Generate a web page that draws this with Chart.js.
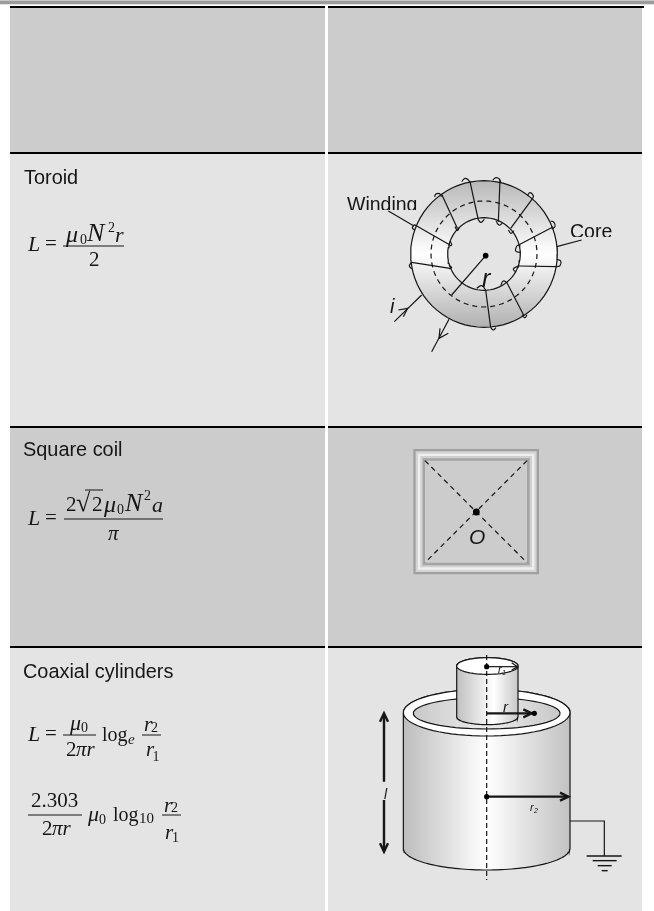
<!DOCTYPE html>
<html>
<head>
<meta charset="utf-8">
<title>Inductance table</title>
<script src="https://cdn.jsdelivr.net/npm/chart.js@4"></script>
<style>
  html, body { margin: 0; padding: 0; background: #fff; }
  #wrap { position: relative; width: 654px; height: 911px; overflow: hidden; }
  #wrap span { position: absolute; white-space: pre; color: #161616; }
</style>
</head>
<body>
<div id="wrap"><canvas id="tableChart" width="654" height="911"></canvas></div>
<script>
// page units on both axes, y runs downwards
const pageWidth = 654;
const pageHeight = 911;

const rowTops = [8, 154, 428, 648];
const rowBottoms = [152, 426, 646, 911];
const rowFills = ['#cccccc', '#e4e4e4', '#cccccc', '#e4e4e4'];
const columnLefts = [10, 328];
const columnRights = [325, 642];

// toroid
const toroidCentre = [484, 254];
const toroidRadii = [73.3, 53, 36.3];
const toroidWindings = [
  [[305,88],[352,190]], [[390,50],[415,165]], [[480,45],[475,170]], [[578,100],[512,190]],
  [[640,185],[530,243]], [[650,305],[535,303]], [[552,452],[500,352]], [[452,488],[437,375]],
  [[215,292],[330,310]], [[225,180],[330,240]]
];
const toroidLoops = [
  [[305,95],[298,86],[287,88],[284,96]], [[365,50],[375,40],[385,45],[390,52]],
  [[458,45],[468,38],[478,42],[482,52]], [[562,92],[570,83],[580,92],[578,100]],
  [[632,168],[642,172],[645,185],[635,192]], [[650,283],[662,288],[660,302],[650,305]],
  [[546,450],[554,458],[561,450]], [[452,488],[460,495],[468,488]],
  [[215,292],[208,302],[215,312]], [[225,178],[217,188],[225,196]],
  [[345,185],[352,196],[358,188]], [[415,165],[423,172],[433,163]],
  [[468,168],[477,180],[487,175]], [[505,195],[513,205],[522,197]],
  [[530,243],[527,258],[542,262]], [[535,303],[520,312],[528,322]],
  [[482,362],[490,348],[500,352]], [[410,370],[425,362],[437,375]],
  [[327,300],[335,308],[328,312]], [[330,228],[335,240],[328,243]]
];
const toroidLeaders = [
  [[145,138],[222,183]], [[650,245],[725,225]], [[437,272],[335,390]],
  [[163,470],[245,390]], [[175,435],[203,430],[190,455]],
  [[327,463],[275,560]], [[300,490],[297,520],[325,505]]
];

// square coil, outermost band first
const squareBands = [
  [[40,27],[417,403],'#a0a0a0'], [[47,34],[410,396],'#d4d4d4'], [[54,41],[403,389],'#efefef'],
  [[61,48],[396,382],'#d0d0d0'], [[68,55],[389,376],'#a4a4a4'], [[75,62],[381,368],'#cccccc']
];
const squareDiagonals = [[[75,62],[381,368]], [[381,62],[75,368]]];
const squareDot = [229, 216];

// coaxial cylinders
const outerShell = { cx: 350, rx: 250, top: 188, ryTop: 70, bottom: 595, ryBottom: 65 };
const outerBore = { cx: 350, cy: 190, rx: 220, ry: 47 };
const innerRod = { cx: 352, rx: 92, top: 48, ryTop: 25, bottom: 200, ryBottom: 24 };
const cylinderStops = [[0, '#bdbdbd'], [0.5, '#ffffff'], [1, '#c2c2c2']];
const rodStops = [[0, '#c0c0c0'], [0.6, '#ffffff'], [1, '#c8c8c8']];
const cylinderAxis = [[350,15],[350,690]];
const thinArrows = [[[350,50],[440,50]], [[425,38],[442,50],[425,60]]];
const thickArrows = [
  [[350,190],[485,190]], [[460,178],[485,190],[460,202]],
  [[350,440],[595,440]], [[570,428],[595,440],[570,452]],
  [[42,195],[42,395]], [[30,215],[42,190],[54,215]],
  [[42,450],[42,600]], [[30,580],[42,605],[54,580]]
];
const groundWire = [[600,513],[703,513],[703,618]];
const groundBars = [[[650,618],[755,618]], [[668,632],[740,632]], [[683,647],[725,647]], [[695,662],[713,662]]];
const cylinderDots = [[350,50],[493,190],[350,440]];

// formula rules: x0, x1, y
const fractionRules = [
  [63,124,246], [64,163,519], [63,96,735], [142,161,735], [28,82,815], [162,181,815], [85,103,490]
];

// text: string, x, baseline, size, family, extra style
const SANS = '"Liberation Sans"';
const SERIF = '"Liberation Serif"';
const sansLabels = [
  ['Toroid', 24, 184.5, 19.9], ['Square coil', 23, 457, 19.9], ['Coaxial cylinders', 23, 679, 19.9]
];
const diagramLabels = [
  ['i', 390, 313, 20, 'italic'], ['r', 482, 287, 25, 'italic'], ['O', 469, 544, 21, 'italic'],
  ['r', 498, 673, 11, 'italic'], ['1', 502, 675, 7, 'italic'], ['r', 503, 712, 15, 'italic'],
  ['l', 384, 799, 14, 'italic'], ['r', 530, 811, 11, 'italic'], ['2', 534, 813, 7, 'italic']
];
const clippedLabels = [
  ['Winding', 347, 212, 19.5, 210], ['Core', 570, 239, 19.5, 237]
];
const mathLabels = [
  // toroid
  ['L', 28, 251, 22, 'i'], ['=', 45, 251, 21, ''], ['μ', 66, 242, 24, 'i'], ['0', 80, 245, 14, ''],
  ['N', 87, 242, 26, 'i'], ['2', 108, 233, 14, ''], ['r', 115, 242, 22, 'i'], ['2', 89, 267, 21, ''],
  // square coil
  ['L', 28, 525, 22, 'i'], ['=', 45, 525, 21, ''], ['2', 66, 512, 21, ''], ['√', 76, 512, 26, ''],
  ['2', 92, 512, 21, ''], ['μ', 104, 512, 24, 'i'], ['0', 117, 515, 14, ''], ['N', 125, 512, 26, 'i'],
  ['2', 144, 501, 14, ''], ['a', 152, 512, 22, 'i'], ['π', 108, 541, 21, 'i'],
  // coaxial, natural log
  ['L', 28, 741, 22, 'i'], ['=', 45, 741, 21, ''], ['μ', 70, 730, 22, 'i'], ['0', 81, 733, 14, ''],
  ['2', 66, 757, 21, ''], ['π', 76, 757, 21, 'i'], ['r', 86.5, 757, 21, 'i'], ['log', 102, 741, 20, ''],
  ['e', 128, 745, 15, 'i'], ['r', 144, 732, 21, 'i'], ['2', 151, 733, 14, ''],
  ['r', 146, 757, 21, 'i'], ['1', 152.5, 762, 14, ''],
  // coaxial, base 10
  ['2.303', 31, 808, 21, ''], ['2', 42, 836, 21, ''], ['π', 52, 836, 21, 'i'], ['r', 62.5, 836, 21, 'i'],
  ['μ', 88, 821, 22, 'i'], ['0', 99, 825, 14, ''], ['log', 113, 821, 20, ''], ['10', 139, 824, 15, ''],
  ['r', 164, 813, 21, 'i'], ['2', 171, 813, 14, ''], ['r', 165, 840, 21, 'i'], ['1', 172, 843, 14, '']
];

// crop readings were taken at 3x from a known corner
const fromCrop = (ox, oy) => ([u, v]) => ({ x: ox + u / 3, y: oy + v / 3 });
const tor = fromCrop(340, 165);
const sq = fromCrop(400, 440);
const cyl = fromCrop(370, 650);

const datasets = [];
function addShape(points, opts) {
  datasets.push(Object.assign({
    data: points, showLine: true, pointRadius: 0, tension: 0,
    borderColor: '#161616', borderWidth: 1.2, fill: false
  }, opts));
}
function rect(x0, y0, x1, y1, color) {
  addShape([{x:x0,y:y0},{x:x1,y:y0},{x:x1,y:y1},{x:x0,y:y1},{x:x0,y:y0}],
    { fill: 'shape', backgroundColor: color, borderWidth: 0, borderColor: 'transparent' });
}
function arc(cx, cy, rx, ry, from, to) {
  const pts = [];
  for (let i = 0; i <= 72; i++) {
    const t = (from + (to - from) * i / 72) * Math.PI / 180;
    pts.push({ x: cx + rx * Math.cos(t), y: cy + ry * Math.sin(t) });
  }
  return pts;
}
function gradient(x0, y0, x1, y1, stops) {
  return (c) => {
    const { x, y } = c.chart.scales;
    if (!c.chart.chartArea || !x || !y) return '#e4e4e4';
    const g = c.chart.ctx.createLinearGradient(x.getPixelForValue(x0), y.getPixelForValue(y0),
      x.getPixelForValue(x1), y.getPixelForValue(y1));
    stops.forEach(s => g.addColorStop(s[0], s[1]));
    return g;
  };
}

// page furniture
rect(0, 0, pageWidth, 1, '#c8c8c8');
rect(0, 1, pageWidth, 4, '#9c9c9c');
rect(0, 4, pageWidth, 5, '#e2e2e2');
rowTops.forEach((top, i) => {
  columnLefts.forEach((left, j) => {
    rect(left, top, columnRights[j], rowBottoms[i], rowFills[i]);
    rect(left, top - 2, columnRights[j] + (i === 0 && j === 1 ? 2 : 0), top, '#000000');
  });
});

// toroid
const [tx, ty] = toroidCentre;
addShape(arc(tx, ty, toroidRadii[0], toroidRadii[0], 0, 360), {
  fill: 'shape',
  backgroundColor: gradient(tx, ty - toroidRadii[0], tx, ty + toroidRadii[0],
    [[0, '#b8b8b8'], [0.5, '#ffffff'], [1, '#b0b0b0']])
});
addShape(arc(tx, ty, toroidRadii[2], toroidRadii[2], 0, 360), { fill: 'shape', backgroundColor: '#e4e4e4' });
addShape(arc(tx, ty, toroidRadii[1], toroidRadii[1], 0, 360), { borderDash: [5, 4] });
toroidWindings.forEach(w => addShape(w.map(tor), {}));
toroidLoops.forEach(l => addShape(l.map(tor), { tension: 0.5 }));
toroidLeaders.forEach(l => addShape(l.map(tor), {}));
addShape([tor([437,272])], { showLine: false, pointRadius: 2.8, pointBackgroundColor: '#000', pointBorderWidth: 0 });

// square coil
squareBands.forEach(b => {
  const a = sq(b[0]), c = sq(b[1]);
  rect(a.x, a.y, c.x, c.y, b[2]);
});
squareDiagonals.forEach(d => addShape(d.map(sq), { borderDash: [5, 4] }));
addShape([sq(squareDot)], { showLine: false, pointRadius: 3.4, pointBackgroundColor: '#000', pointBorderWidth: 0 });

// cylinders
function cylinderBody(c) {
  const top = arc(c.cx, c.top, c.rx, c.ryTop, 180, 360);
  const bottom = arc(c.cx, c.bottom, c.rx, c.ryBottom, 0, 180);
  return top.concat(bottom, [top[0]]).map(p => cyl([p.x, p.y]));
}
const ell = (cx, cy, rx, ry) => arc(cx, cy, rx, ry, 0, 360).map(p => cyl([p.x, p.y]));
const cylGrad = (c, stops) => gradient(cyl([c.cx - c.rx, 0]).x, 0, cyl([c.cx + c.rx, 0]).x, 0, stops);
addShape(cylinderBody(outerShell), { fill: 'shape', backgroundColor: cylGrad(outerShell, cylinderStops) });
addShape(ell(outerShell.cx, outerShell.top, outerShell.rx, outerShell.ryTop), { fill: 'shape', backgroundColor: '#ffffff' });
addShape(ell(outerBore.cx, outerBore.cy, outerBore.rx, outerBore.ry), {
  fill: 'shape', backgroundColor: cylGrad(outerBore, [[0, '#c8c8c8'], [0.5, '#ededed'], [1, '#c8c8c8']])
});
addShape(cylinderBody(innerRod), { fill: 'shape', backgroundColor: cylGrad(innerRod, rodStops) });
addShape(ell(innerRod.cx, innerRod.top, innerRod.rx, innerRod.ryTop), { fill: 'shape', backgroundColor: '#ffffff' });
addShape(cylinderAxis.map(cyl), { borderDash: [5, 3] });
thinArrows.forEach(a => addShape(a.map(cyl), {}));
thickArrows.forEach(a => addShape(a.map(cyl), { borderWidth: 2.4 }));
addShape(groundWire.map(cyl), {});
groundBars.forEach(b => addShape(b.map(cyl), { borderWidth: 1.4 }));
addShape(cylinderDots.map(cyl), { showLine: false, pointRadius: 2.6, pointBackgroundColor: '#000', pointBorderWidth: 0 });

// formula rules
fractionRules.forEach(r => addShape([{x:r[0],y:r[2]},{x:r[1],y:r[2]}], { borderWidth: 1 }));

// first dataset paints last, so give later shapes a lower order
datasets.forEach((d, i) => { d.order = -i; });

const chart = new Chart(document.getElementById('tableChart'), {
  type: 'scatter',
  data: { datasets },
  options: {
    responsive: false,
    animation: false,
    events: [],
    layout: { padding: 0, autoPadding: false },
    plugins: { legend: { display: false }, tooltip: { enabled: false } },
    scales: {
      x: { type: 'linear', display: false, min: 0, max: pageWidth },
      y: { type: 'linear', display: false, min: 0, max: pageHeight, reverse: true }
    }
  }
});

// text stays real text on top of the canvas
const wrap = document.getElementById('wrap');
function putText(str, x, base, size, family, style, clipAt) {
  const ratio = family === SERIF ? 0.8375 : 0.8465;
  const el = document.createElement('span');
  el.textContent = str;
  const px = chart.scales.x.getPixelForValue(x);
  const top = chart.scales.y.getPixelForValue(base) - size * ratio;
  el.style.cssText = `left:${px}px;top:${top}px;font:${style || 'normal'} ${size}px/${size}px ${family};`;
  if (clipAt) el.style.cssText += `height:${clipAt - top}px;overflow:hidden;`;
  wrap.appendChild(el);
}
sansLabels.forEach(l => putText(l[0], l[1], l[2], l[3], SANS));
diagramLabels.forEach(l => putText(l[0], l[1], l[2], l[3], SANS, l[4]));
clippedLabels.forEach(l => putText(l[0], l[1], l[2], l[3], SANS, '', l[4]));
mathLabels.forEach(l => putText(l[0], l[1], l[2], l[3], SERIF, l[4] === 'i' ? 'italic' : ''));
</script>
</body>
</html>
